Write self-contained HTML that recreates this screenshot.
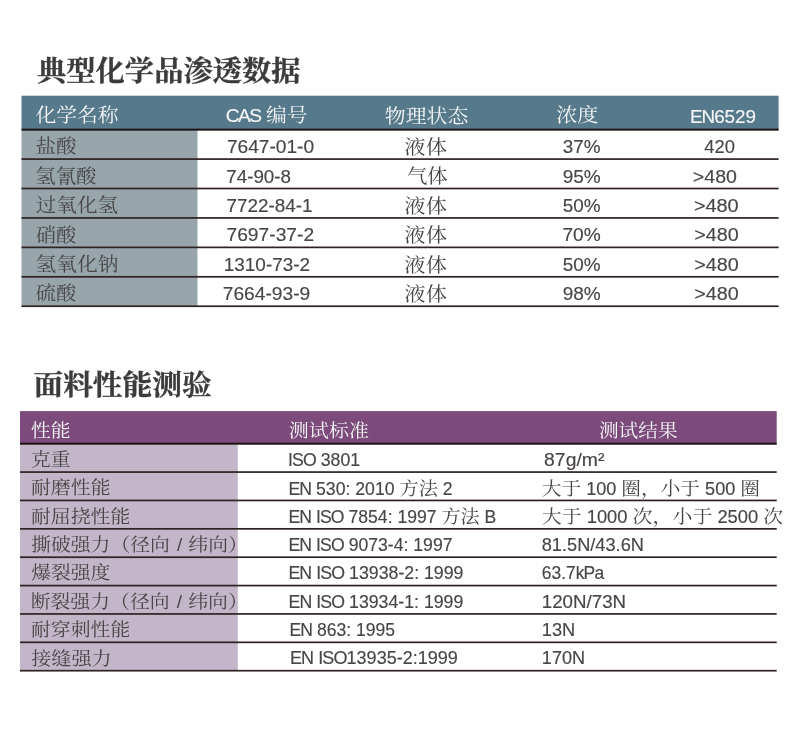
<!DOCTYPE html>
<html lang="zh-CN"><head><meta charset="utf-8"><title>典型化学品渗透数据</title>
<style>
html,body{margin:0;padding:0;background:#fff;}
body{width:790px;height:736px;position:relative;overflow:hidden;}
svg.bg{position:absolute;left:0;top:0;}
.t{position:absolute;left:0;top:0;white-space:nowrap;line-height:1;transform-origin:0 0;font-weight:400;}
.s{font-family:"Liberation Serif","Noto Serif CJK SC",serif;}
.s i{font-style:normal;font-family:"Liberation Sans","Noto Serif CJK SC",sans-serif;font-size:0.92em;-webkit-text-stroke:0.15px currentColor;}
.s b{font-weight:inherit;display:inline-block;transform:scaleY(0.95);transform-origin:0 62%;}
.s em{font-style:normal;font-family:"Liberation Sans","Noto Serif CJK SC",sans-serif;font-size:0.96em;font-weight:400;margin-left:0.08em;letter-spacing:0.02em;}
.w{font-weight:500;}
.s u{text-decoration:none;letter-spacing:-0.05em;}
.s{font-weight:400;}
.h{font-family:"Liberation Serif","Noto Serif CJK SC",serif;font-weight:700;-webkit-text-stroke:0.3px currentColor;}
</style></head><body>
<svg class="bg" width="790" height="736" viewBox="0 0 790 736"><rect x="21.5" y="95.7" width="757.1" height="34" fill="#567a8b"/><rect x="21.5" y="130" width="176.0" height="176" fill="#98a6ac"/><rect x="21.5" y="128.65" width="757.1" height="2.0" fill="#1f1313"/><rect x="21.5" y="158.23" width="757.1" height="1.7" fill="#2e2222"/><rect x="21.5" y="187.66" width="757.1" height="1.7" fill="#2e2222"/><rect x="21.5" y="217.09" width="757.1" height="1.7" fill="#2e2222"/><rect x="21.5" y="246.52" width="757.1" height="1.7" fill="#2e2222"/><rect x="21.5" y="275.95" width="757.1" height="1.7" fill="#2e2222"/><rect x="21.5" y="305.38" width="757.1" height="1.7" fill="#2e2222"/><rect x="20" y="411.1" width="756.7" height="33" fill="#7c4b7c"/><rect x="20" y="444" width="217.8" height="227" fill="#c2b6c8"/><rect x="20" y="442.7" width="756.7" height="2.0" fill="#1f1313"/><rect x="20" y="471.22" width="756.7" height="1.7" fill="#2e2222"/><rect x="20" y="499.6" width="756.7" height="1.7" fill="#2e2222"/><rect x="20" y="527.98" width="756.7" height="1.7" fill="#2e2222"/><rect x="20" y="556.35" width="756.7" height="1.7" fill="#2e2222"/><rect x="20" y="584.73" width="756.7" height="1.7" fill="#2e2222"/><rect x="20" y="613.1" width="756.7" height="1.7" fill="#2e2222"/><rect x="20" y="641.48" width="756.7" height="1.7" fill="#2e2222"/><rect x="20" y="669.85" width="756.7" height="1.7" fill="#2e2222"/></svg>
<div id="t1" class="t h" style="font-size:29px;color:#3b3b3b;transform:translate(37.04px,57.45px) scale(1.0094,0.965);">典型化学品渗透数据</div>
<div id="t2" class="t h" style="font-size:29.3px;color:#3b3b3b;transform:translate(33.44px,371.95px) scale(1.0141,0.965);">面料性能测验</div>
<div id="a_h1" class="t s w" style="font-size:20.4px;color:#f4f6f7;transform:translate(35.49px,106.3px) scale(1.0174,0.945);">化学名称</div>
<div id="a_h2" class="t s w" style="font-size:20.4px;color:#f4f6f7;transform:translate(225.78px,106.4px) scale(1.0217,0.945);"><i><u style="letter-spacing:-0.08em">CAS</u>  </i>编号</div>
<div id="a_h3" class="t s w" style="font-size:20.4px;color:#f4f6f7;transform:translate(384.83px,106.7px) scale(1.0231,0.945);">物理状态</div>
<div id="a_h4" class="t s w" style="font-size:20.4px;color:#f4f6f7;transform:translate(556.22px,106.4px) scale(1.0321,0.945);">浓度</div>
<div id="a_h5" class="t s w" style="font-size:20.4px;color:#f4f6f7;transform:translate(689.89px,106.05px) scale(1.0039,1.0);"><i><u>EN</u>6529</i></div>
<div id="a_n0" class="t s" style="font-size:20.4px;color:#474545;transform:translate(35.39px,137.4px) scale(1.0102,0.945);">盐酸</div>
<div id="a_c0" class="t s" style="font-size:20.4px;color:#474545;transform:translate(226.88px,135.8px) scale(1.0202,1.02);"><i>7647-01-0</i></div>
<div id="a_s0" class="t s" style="font-size:20.4px;color:#474545;transform:translate(404.37px,138.2px) scale(1.043,0.945);">液体</div>
<div id="a_k0" class="t s" style="font-size:20.4px;color:#474545;transform:translate(562.7px,135.8px) scale(1.0055,1.02);"><i>37%</i></div>
<div id="a_e0" class="t s" style="font-size:20.4px;color:#474545;transform:translate(704.26px,135.8px) scale(0.9787,1.02);"><i>420</i></div>
<div id="a_n1" class="t s" style="font-size:20.4px;color:#474545;transform:translate(35.14px,166.85px) scale(1.005,0.945);">氢氰酸</div>
<div id="a_c1" class="t s" style="font-size:20.4px;color:#474545;transform:translate(226.25px,165.25px) scale(1.0016,1.02);"><i>74-90-8</i></div>
<div id="a_s1" class="t s" style="font-size:20.4px;color:#474545;transform:translate(406.9px,167.4px) scale(1.0013,0.945);">气体</div>
<div id="a_k1" class="t s" style="font-size:20.4px;color:#474545;transform:translate(562.69px,165.25px) scale(1.0125,1.02);"><i>95%</i></div>
<div id="a_e1" class="t s" style="font-size:20.4px;color:#474545;transform:translate(692.86px,165.25px) scale(1.0442,1.02);"><i>&gt;480</i></div>
<div id="a_n2" class="t s" style="font-size:20.4px;color:#474545;transform:translate(35.64px,196.3px) scale(1.0112,0.945);">过氧化氢</div>
<div id="a_c2" class="t s" style="font-size:20.4px;color:#474545;transform:translate(226.39px,194.7px) scale(1.0072,1.02);"><i>7722-84-1</i></div>
<div id="a_s2" class="t s" style="font-size:20.4px;color:#474545;transform:translate(404.37px,196.85px) scale(1.043,0.945);">液体</div>
<div id="a_k2" class="t s" style="font-size:20.4px;color:#474545;transform:translate(562.7px,194.7px) scale(1.0055,1.02);"><i>50%</i></div>
<div id="a_e2" class="t s" style="font-size:20.4px;color:#474545;transform:translate(693.9px,194.7px) scale(1.0601,1.02);"><i>&gt;480</i></div>
<div id="a_n3" class="t s" style="font-size:20.4px;color:#474545;transform:translate(35.65px,225.75px) scale(0.9975,0.945);">硝酸</div>
<div id="a_c3" class="t s" style="font-size:20.4px;color:#474545;transform:translate(226.48px,224.15px) scale(1.025,1.02);"><i>7697-37-2</i></div>
<div id="a_s3" class="t s" style="font-size:20.4px;color:#474545;transform:translate(404.37px,226.3px) scale(1.043,0.945);">液体</div>
<div id="a_k3" class="t s" style="font-size:20.4px;color:#474545;transform:translate(562.43px,224.15px) scale(1.0195,1.02);"><i>70%</i></div>
<div id="a_e3" class="t s" style="font-size:20.4px;color:#474545;transform:translate(694.31px,224.15px) scale(1.0515,1.02);"><i>&gt;480</i></div>
<div id="a_n4" class="t s" style="font-size:20.4px;color:#474545;transform:translate(35.38px,255.2px) scale(1.0176,0.945);">氢氧化钠</div>
<div id="a_c4" class="t s" style="font-size:20.4px;color:#474545;transform:translate(223.74px,253.35px) scale(1.0102,1.02);"><i>1310-73-2</i></div>
<div id="a_s4" class="t s" style="font-size:20.4px;color:#474545;transform:translate(404.37px,255.75px) scale(1.043,0.945);">液体</div>
<div id="a_k4" class="t s" style="font-size:20.4px;color:#474545;transform:translate(562.7px,253.35px) scale(1.0055,1.02);"><i>50%</i></div>
<div id="a_e4" class="t s" style="font-size:20.4px;color:#474545;transform:translate(694.31px,253.35px) scale(1.0515,1.02);"><i>&gt;480</i></div>
<div id="a_n5" class="t s" style="font-size:20.4px;color:#474545;transform:translate(35.65px,284.4px) scale(0.9975,0.945);">硫酸</div>
<div id="a_c5" class="t s" style="font-size:20.4px;color:#474545;transform:translate(222.78px,282.8px) scale(1.0227,1.02);"><i>7664-93-9</i></div>
<div id="a_s5" class="t s" style="font-size:20.4px;color:#474545;transform:translate(404.37px,285.2px) scale(1.043,0.945);">液体</div>
<div id="a_k5" class="t s" style="font-size:20.4px;color:#474545;transform:translate(562.69px,282.8px) scale(1.0125,1.02);"><i>98%</i></div>
<div id="a_e5" class="t s" style="font-size:20.4px;color:#474545;transform:translate(694.31px,282.8px) scale(1.0515,1.02);"><i>&gt;480</i></div>
<div id="b_h1" class="t s w" style="font-size:19.7px;color:#f4f6f7;transform:translate(30.74px,421.9px) scale(1.0133,0.95);">性能</div>
<div id="b_h2" class="t s w" style="font-size:19.7px;color:#f4f6f7;transform:translate(288.84px,422.25px) scale(1.0168,0.95);">测试标准</div>
<div id="b_h3" class="t s w" style="font-size:19.7px;color:#f4f6f7;transform:translate(598.9px,422.25px) scale(1.0013,0.95);">测试结果</div>
<div id="b_n0" class="t s" style="font-size:19.7px;color:#474545;transform:translate(30.9px,450.45px) scale(1.004,0.95);">克重</div>
<div id="b_s0" class="t s" style="font-size:19.7px;color:#474545;transform:translate(288.03px,449.95px) scale(0.9769,1.0);"><i><u>ISO</u> 3801</i></div>
<div id="b_r0" class="t s" style="font-size:19.7px;color:#474545;transform:translate(544.1px,450.0px) scale(1.0694,1.0);"><i>87g/m²</i></div>
<div id="b_n1" class="t s" style="font-size:19.7px;color:#474545;transform:translate(30.89px,478.9px) scale(1.0137,0.95);">耐磨性能</div>
<div id="b_s1" class="t s" style="font-size:19.7px;color:#474545;transform:translate(288.38px,478.7px) scale(0.9745,1.0);"><i><u>EN</u> 530: 2010 </i><b>方法</b><i> 2</i></div>
<div id="b_r1" class="t s" style="font-size:19.7px;color:#474545;transform:translate(541.75px,478.7px) scale(0.9993,1.0);"><i></i><b>大于</b><i> 100 </i><b>圈，小于</b><i> 500 </i><b>圈</b><i></i></div>
<div id="b_n2" class="t s" style="font-size:19.7px;color:#474545;transform:translate(30.89px,507.35px) scale(1.0109,0.95);">耐屈挠性能</div>
<div id="b_s2" class="t s" style="font-size:19.7px;color:#474545;transform:translate(288.39px,507.1px) scale(0.971,1.0);"><i><u>EN</u> <u>ISO</u> 7854: 1997 </i><b>方法</b><i> B</i></div>
<div id="b_r2" class="t s" style="font-size:19.7px;color:#474545;transform:translate(541.74px,507.1px) scale(1.0124,1.0);"><i></i><b>大于</b><i> 1000 </i><b>次，小于</b><i> 2500 </i><b>次</b><i></i></div>
<div id="b_n3" class="t s" style="font-size:19.7px;color:#474545;transform:translate(31.15px,535.6px) scale(1.0062,0.95);">撕破强力（径向<em> / </em>纬向）</div>
<div id="b_s3" class="t s" style="font-size:19.7px;color:#474545;transform:translate(288.39px,534.9px) scale(0.973,1.0);"><i><u>EN</u> <u>ISO</u> 9073-4: 1997</i></div>
<div id="b_r3" class="t s" style="font-size:19.7px;color:#474545;transform:translate(541.75px,534.9px) scale(1.0045,1.0);"><i>81.5N/43.6N</i></div>
<div id="b_n4" class="t s" style="font-size:19.7px;color:#474545;transform:translate(31.14px,564.0px) scale(1.0071,0.95);">爆裂强度</div>
<div id="b_s4" class="t s" style="font-size:19.7px;color:#474545;transform:translate(288.43px,563.4px) scale(0.9793,1.0);"><i><u>EN</u> <u>ISO</u> 13938-2: 1999</i></div>
<div id="b_r4" class="t s" style="font-size:19.7px;color:#474545;transform:translate(541.78px,563.4px) scale(0.9641,1.0);"><i>63.7<u>kPa</u></i></div>
<div id="b_n5" class="t s" style="font-size:19.7px;color:#474545;transform:translate(30.64px,592.4px) scale(1.0087,0.95);">断裂强力（径向<em> / </em>纬向）</div>
<div id="b_s5" class="t s" style="font-size:19.7px;color:#474545;transform:translate(288.48px,591.9px) scale(0.9782,1.0);"><i><u>EN</u> <u>ISO</u> 13934-1: 1999</i></div>
<div id="b_r5" class="t s" style="font-size:19.7px;color:#474545;transform:translate(541.81px,591.9px) scale(1.0329,1.0);"><i>120N/73N</i></div>
<div id="b_n6" class="t s" style="font-size:19.7px;color:#474545;transform:translate(30.89px,620.9px) scale(1.0109,0.95);">耐穿刺性能</div>
<div id="b_s6" class="t s" style="font-size:19.7px;color:#474545;transform:translate(289.44px,620.35px) scale(0.9691,1.0);"><i><u>EN</u> 863: 1995</i></div>
<div id="b_r6" class="t s" style="font-size:19.7px;color:#474545;transform:translate(541.84px,620.35px) scale(1.0066,1.0);"><i>13N</i></div>
<div id="b_n7" class="t s" style="font-size:19.7px;color:#474545;transform:translate(31.13px,649.35px) scale(1.0237,0.95);">接缝强力</div>
<div id="b_s7" class="t s" style="font-size:19.7px;color:#474545;transform:translate(289.96px,648.4px) scale(0.9952,1.0);"><i><u>EN</u> <u>ISO</u>13935-2:1999</i></div>
<div id="b_r7" class="t s" style="font-size:19.7px;color:#474545;transform:translate(541.85px,648.4px) scale(1.0,1.0);"><i>170N</i></div>
</body></html>
